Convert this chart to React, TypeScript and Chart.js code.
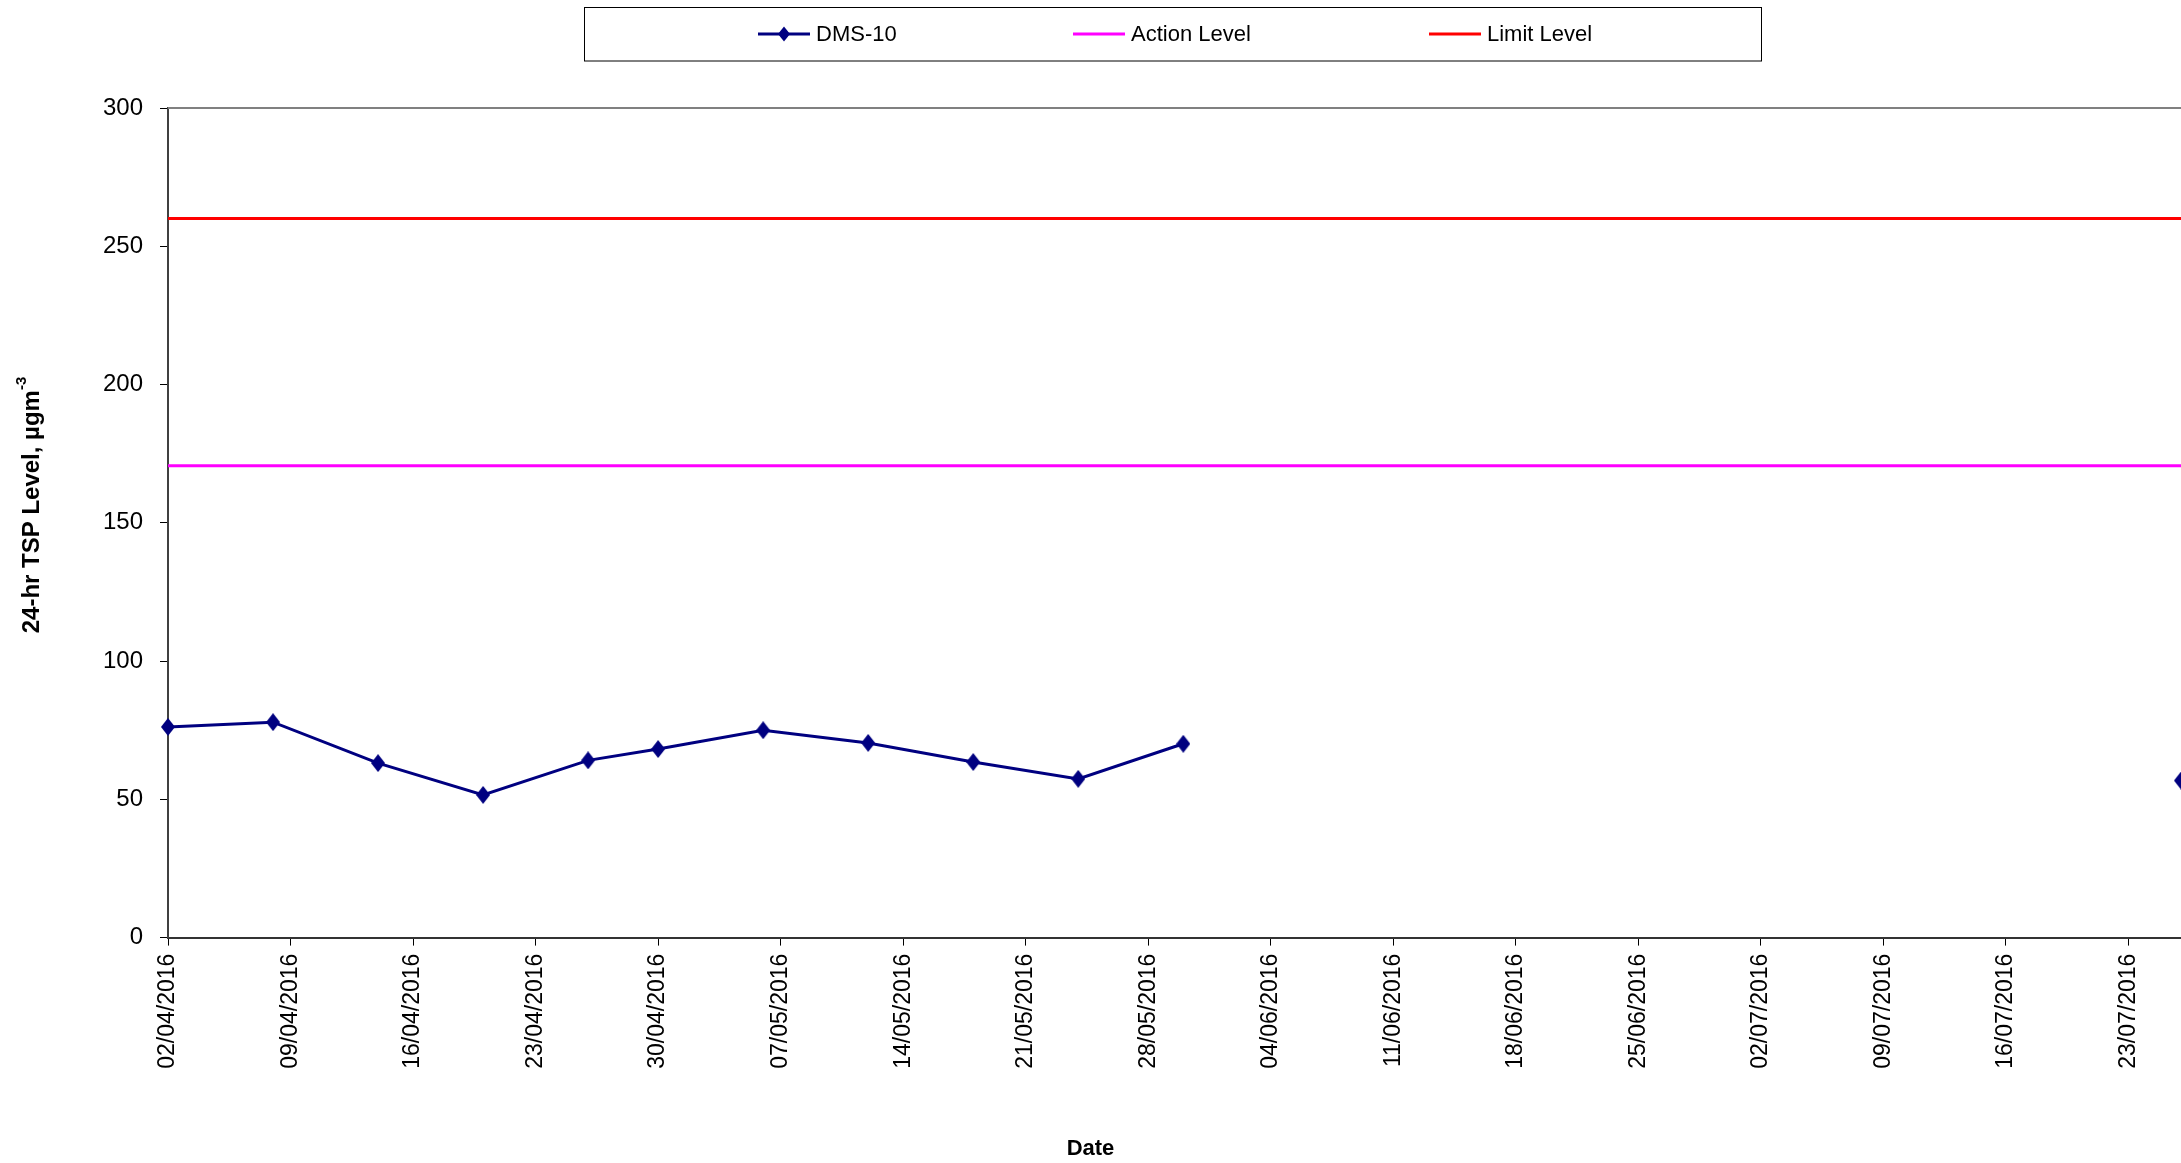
import React, { useEffect, useRef } from 'react';
import { Chart, registerables } from 'chart.js';

Chart.register(...registerables);

// ---- Data ----
const sampleDates = [
  '02/04/2016', '08/04/2016', '14/04/2016', '20/04/2016', '26/04/2016', '30/04/2016',
  '06/05/2016', '12/05/2016', '18/05/2016', '24/05/2016', '30/05/2016', '05/06/2016', '26/07/2016',
];
const dms10Values: (number | null)[] = [76.2, 77.9, 63.1, 51.6, 64.1, 68.2, 75.0, 70.4, 63.5, 57.4, 70.1, null, 56.8];
const actionLevel = 170.6;
const limitLevel = 260;
const axisStartDate = '02/04/2016';
const axisEndDate = '26/07/2016';
const xTickLabels = [
  '02/04/2016', '09/04/2016', '16/04/2016', '23/04/2016', '30/04/2016', '07/05/2016',
  '14/05/2016', '21/05/2016', '28/05/2016', '04/06/2016', '11/06/2016', '18/06/2016',
  '25/06/2016', '02/07/2016', '09/07/2016', '16/07/2016', '23/07/2016',
];
const yMin = 0;
const yMax = 300;
const yStep = 50;
const seriesNames = ['DMS-10', 'Action Level', 'Limit Level'];
const yTitleMain = '24-hr TSP Level, µgm';
const yTitleSup = '-3';
const xTitle = 'Date';

const FONT = "'Liberation Sans', Arial, Helvetica, sans-serif";

const toDay = (s: string) => {
  const [d, m, y] = s.split('/').map(Number);
  return Date.UTC(y, m - 1, d) / 86400000;
};

const diamond = (ctx: CanvasRenderingContext2D, x: number, y: number, rx: number, ry: number) => {
  ctx.beginPath();
  ctx.moveTo(x, y - ry);
  ctx.lineTo(x + rx, y);
  ctx.lineTo(x, y + ry);
  ctx.lineTo(x - rx, y);
  ctx.closePath();
  ctx.fill();
};

const makeDiamondImage = (color: string, rx: number, ry: number) => {
  const c = document.createElement('canvas');
  c.width = Math.ceil(rx * 2);
  c.height = Math.ceil(ry * 2);
  const g = c.getContext('2d')!;
  g.fillStyle = color;
  diamond(g, c.width / 2, c.height / 2, rx, ry);
  return c;
};

const excelPlugin = {
  id: 'excelDecor',
  beforeDatasetsDraw(chart: any) {
    const { ctx, chartArea } = chart;
    ctx.save();
    ctx.strokeStyle = '#808080';
    ctx.lineWidth = 2;
    ctx.beginPath();
    ctx.moveTo(chartArea.left, chartArea.top);
    ctx.lineTo(chart.width + 2, chartArea.top);
    ctx.stroke();
    ctx.restore();
  },
  afterDraw(chart: any) {
    const { ctx } = chart;
    ctx.save();
    // Legend box
    ctx.strokeStyle = '#000000';
    ctx.lineWidth = 1;
    ctx.strokeRect(584.5, 7.5, 1177, 53.5);
    const items = [
      { lineX: 758, textX: 816 },
      { lineX: 1073, textX: 1131 },
      { lineX: 1429, textX: 1487 },
    ];
    const cy = 34;
    ctx.font = `22px ${FONT}`;
    ctx.textBaseline = 'middle';
    ctx.textAlign = 'left';
    chart.data.datasets.forEach((ds: any, i: number) => {
      const it = items[i];
      ctx.strokeStyle = ds.borderColor;
      ctx.lineWidth = 3;
      ctx.beginPath();
      ctx.moveTo(it.lineX, cy);
      ctx.lineTo(it.lineX + 52, cy);
      ctx.stroke();
      if (ds.pointRadius > 0) {
        ctx.fillStyle = ds.pointBackgroundColor;
        diamond(ctx, it.lineX + 26, cy, 6, 7.5);
      }
      ctx.fillStyle = '#000000';
      ctx.fillText(ds.label, it.textX, cy + 1);
    });
    // Y-axis title with superscript
    ctx.translate(32, 505);
    ctx.rotate(-Math.PI / 2);
    ctx.font = `bold 24px ${FONT}`;
    const w1 = ctx.measureText(yTitleMain).width;
    ctx.font = `bold 15px ${FONT}`;
    const w2 = ctx.measureText(yTitleSup).width;
    const start = -(w1 + w2) / 2;
    ctx.fillStyle = '#000000';
    ctx.textBaseline = 'middle';
    ctx.font = `bold 24px ${FONT}`;
    ctx.fillText(yTitleMain, start, 0);
    ctx.font = `bold 15px ${FONT}`;
    ctx.fillText(yTitleSup, start + w1, -10);
    ctx.restore();
  },
};

export default function App() {
  const ref = useRef<HTMLCanvasElement | null>(null);

  useEffect(() => {
    if (!ref.current) return;
    const xMin = toDay(axisStartDate);
    const xMax = toDay(axisEndDate);
    const dmsPoints = sampleDates.map((d, i) => ({ x: toDay(d), y: dms10Values[i] }));
    const tickValues = xTickLabels.map(toDay);
    const marker = makeDiamondImage('#000080', 7, 9);

    const chart = new Chart(ref.current, {
      type: 'line',
      data: {
        datasets: [
          {
            label: seriesNames[0],
            data: dmsPoints as any,
            borderColor: '#000080',
            backgroundColor: '#000080',
            pointBackgroundColor: '#000080',
            pointBorderColor: '#000080',
            borderWidth: 3,
            pointStyle: marker as any,
            pointRadius: 8,
            pointBorderWidth: 0,
            spanGaps: false,
            tension: 0,
            clip: false as any,
          },
          {
            label: seriesNames[1],
            data: [{ x: xMin, y: actionLevel }, { x: xMax, y: actionLevel }],
            borderColor: '#FF00FF',
            backgroundColor: '#FF00FF',
            borderWidth: 3,
            pointRadius: 0,
            tension: 0,
          },
          {
            label: seriesNames[2],
            data: [{ x: xMin, y: limitLevel }, { x: xMax, y: limitLevel }],
            borderColor: '#FF0000',
            backgroundColor: '#FF0000',
            borderWidth: 3,
            pointRadius: 0,
            tension: 0,
          },
        ],
      },
      options: {
        animation: false,
        responsive: false,
        maintainAspectRatio: false,
        devicePixelRatio: 1,
        layout: { autoPadding: false, padding: { top: 108, left: 0, right: 0, bottom: 0 } },
        plugins: {
          legend: { display: false },
          tooltip: { enabled: false },
          title: {
            display: true,
            position: 'bottom',
            text: xTitle,
            color: '#000000',
            font: { family: FONT, size: 22, weight: 'bold' },
            padding: { top: 67, bottom: 1 },
          },
        },
        scales: {
          x: {
            type: 'linear',
            min: xMin,
            max: xMax,
            afterBuildTicks: (scale: any) => {
              scale.ticks = tickValues.map((v) => ({ value: v }));
            },
            afterFit: (scale: any) => {
              scale.height = 131;
              scale.paddingRight = 0;
              scale.paddingLeft = 0;
            },
            ticks: {
              autoSkip: false,
              minRotation: 90,
              maxRotation: 90,
              padding: 8,
              color: '#000000',
              font: { family: FONT, size: 23 },
              callback: (_v: any, i: number) => xTickLabels[i],
            },
            grid: {
              drawOnChartArea: false,
              drawTicks: true,
              tickLength: 8,
              color: '#000000',
              lineWidth: 1,
            },
            border: { display: true, color: '#333333', width: 2 },
          },
          y: {
            type: 'linear',
            min: yMin,
            max: yMax,
            afterFit: (scale: any) => {
              scale.width = 168;
            },
            ticks: {
              stepSize: yStep,
              padding: 17,
              color: '#000000',
              font: { family: FONT, size: 24 },
            },
            grid: {
              drawOnChartArea: false,
              drawTicks: true,
              tickLength: 8,
              color: '#000000',
              lineWidth: 1,
            },
            border: { display: true, color: '#404040', width: 2 },
          },
        },
      },
      plugins: [excelPlugin],
    });
    return () => chart.destroy();
  }, []);

  return (
    <div style={{ position: 'fixed', left: 0, top: 0, width: 2181, height: 1163, overflow: 'hidden', background: '#ffffff' }}>
      <canvas ref={ref} width={2181} height={1163} style={{ display: 'block', width: 2181, height: 1163 }} />
    </div>
  );
}
